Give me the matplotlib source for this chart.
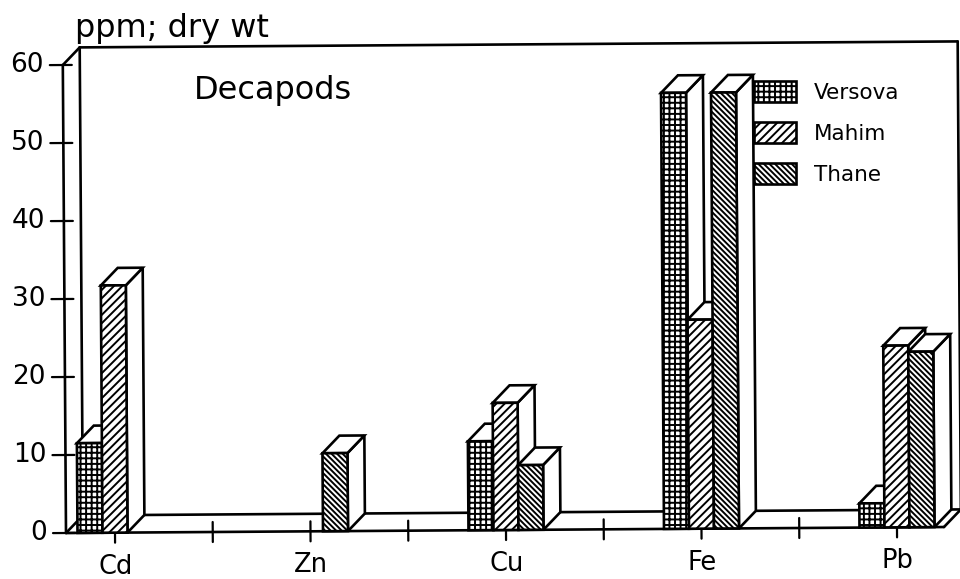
import matplotlib
matplotlib.use("Agg")
import matplotlib.pyplot as plt
from matplotlib.patches import Patch, Polygon
from matplotlib.transforms import Affine2D

categories = ['Cd', 'Zn', 'Cu', 'Fe', 'Pb']
versova = [11.5, 0, 11.4, 55.9, 3.1]
mahim = [31.7, 0, 16.3, 26.8, 23.3]
thane = [0, 10.0, 8.3, 55.9, 22.5]
yticks = [0, 10, 20, 30, 40, 50, 60]
ylabel = 'ppm; dry wt'
title = 'Decapods'

plt.rcParams['font.family'] = 'DejaVu Sans'
plt.rcParams['hatch.linewidth'] = 1.4

W, H = 960, 579
PX_CAT = 195.5   # pixels per category
PX_VAL = 7.8     # pixels per ppm
X0, Y0 = 115, 533

fig = plt.figure(figsize=(9.6, 5.79), dpi=100)
ax = fig.add_axes([0, 0, 1, 1])
ax.set_xlim(-X0 / PX_CAT, (W - X0) / PX_CAT)
ax.set_ylim(-(H - Y0) / PX_VAL, Y0 / PX_VAL)
ax.axis('off')

# the scan is a bit crooked, so everything gets turned about the axis corner
tilt = ax.transData + Affine2D().rotate_deg_around(66, H - Y0, 0.39)

bar_w = 25 / PX_CAT
dx = 17 / PX_CAT
dy = 17.5 / PX_VAL
left = -49 / PX_CAT
right = 829 / PX_CAT
top = 60
LW = 1.9
GRID = '+++'
FWD = '////'
BACK = '\\' * 6


def line(xs, ys, lw=LW, z=1):
    ax.plot(xs, ys, color='black', lw=lw, transform=tilt, zorder=z,
            clip_on=False, solid_capstyle='round')


# walls and floor
line([left, right], [0, 0])
line([left, left], [0, top])
line([left, left + dx], [top, top + dy])
line([left + dx, left + dx], [top + dy, dy])
line([left, left + dx], [0, dy])
line([left + dx, right + dx], [top + dy, top + dy])
line([left + dx, right + dx], [dy, dy])
line([right, right + dx], [0, dy])
line([right + dx, right + dx], [dy, top + dy])

# ticks
for v in yticks:
    line([left - 13 / PX_CAT, left + 9 / PX_CAT], [v, v], 1.6)
    ax.text(left - 19 / PX_CAT, v, str(v), ha='right', va='center',
            fontsize=19, transform=tilt)
for i in range(9):
    line([i / 2, i / 2], [-10 / PX_VAL, 10 / PX_VAL], 1.6)

for i, c in enumerate(categories):
    ax.text(i, -34 / PX_VAL, c, ha='center', va='center',
            fontsize=18.5, transform=tilt)

series = [(versova, GRID, -bar_w), (mahim, FWD, 0), (thane, BACK, bar_w)]
z = 3
for i in range(len(categories)):
    for values, hatch, shift in series:
        v = values[i]
        if v == 0:
            continue
        x0 = i + shift - bar_w / 2
        x1 = x0 + bar_w
        ax.add_patch(Polygon([(x1, 0), (x1 + dx, dy), (x1 + dx, v + dy), (x1, v)],
                             fc='white', ec='black', lw=LW, zorder=z, transform=tilt))
        ax.add_patch(Polygon([(x0, v), (x0 + dx, v + dy), (x1 + dx, v + dy), (x1, v)],
                             fc='white', ec='black', lw=LW, zorder=z, transform=tilt))
        ax.bar(x0, v, bar_w, align='edge', color='white', edgecolor='black',
               hatch=hatch, lw=LW, zorder=z, transform=tilt)
        z += 1

ax.set_xlim(-X0 / PX_CAT, (W - X0) / PX_CAT)
ax.set_ylim(-(H - Y0) / PX_VAL, Y0 / PX_VAL)

fig.text(75 / W, 1 - 29 / H, ylabel, fontsize=23, va='center')
fig.text(194 / W, 1 - 90 / H, title, fontsize=23, va='center')

handles = [Patch(fc='white', ec='black', lw=LW, hatch=GRID, label='Versova'),
           Patch(fc='white', ec='black', lw=LW, hatch=FWD, label='Mahim'),
           Patch(fc='white', ec='black', lw=LW, hatch=BACK, label='Thane')]
fig.legend(handles=handles, loc='upper left', bbox_to_anchor=(754 / W, 1 - 81 / H),
           frameon=False, fontsize=15.5, borderpad=0, borderaxespad=0,
           handlelength=1.95, handleheight=1.15, handletextpad=0.84, labelspacing=0.88)

fig.savefig('out.png', dpi=100)
